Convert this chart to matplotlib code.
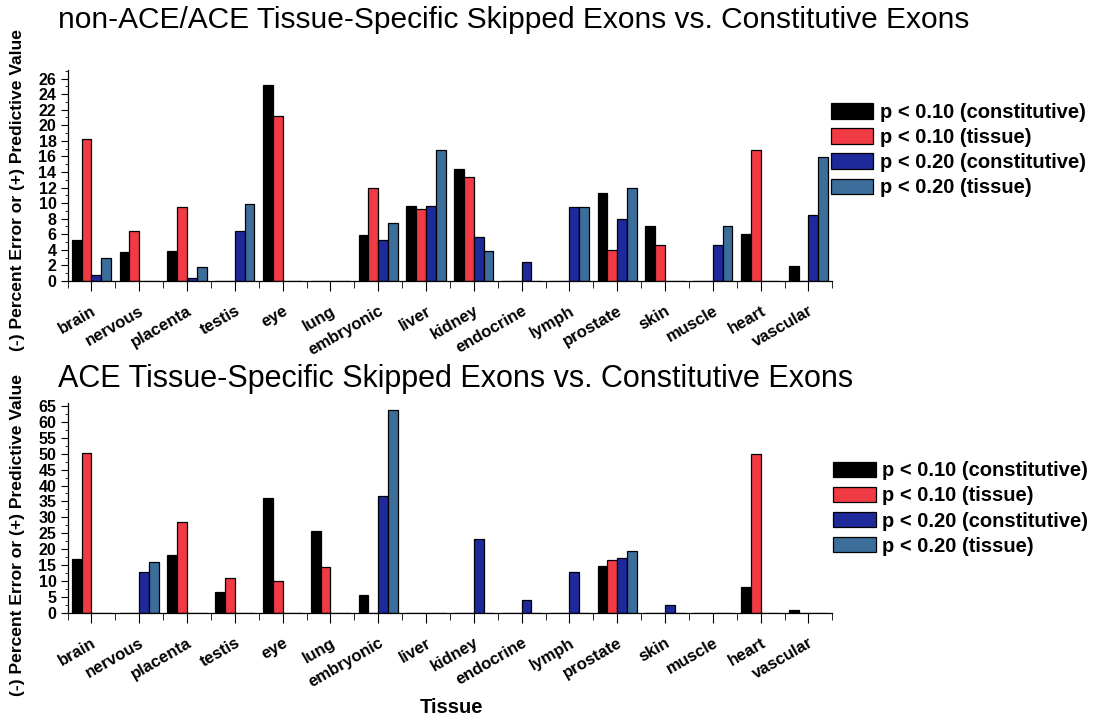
import matplotlib
matplotlib.use("Agg")
import matplotlib.pyplot as plt
import numpy as np
from matplotlib.patches import Patch
from matplotlib.ticker import MultipleLocator

plt.rcParams['font.family'] = ['Liberation Sans', 'DejaVu Sans']

tissues = ["brain", "nervous", "placenta", "testis", "eye", "lung", "embryonic", "liver",
           "kidney", "endocrine", "lymph", "prostate", "skin", "muscle", "heart", "vascular"]
series_names = ["p < 0.10 (constitutive)", "p < 0.10 (tissue)",
                "p < 0.20 (constitutive)", "p < 0.20 (tissue)"]
colors = ["#000000", "#f03a44", "#1e2a9c", "#3c6e9c"]

# top panel: non-ACE/ACE
top_p10_const = [5.2, 3.7, 3.85, 0.05, 25.2, 0, 5.95, 9.65, 14.4, 0, 0, 11.35, 7.05, 0, 6.05, 1.95]
top_p10_tissue = [18.3, 6.4, 9.55, 0, 21.2, 0, 12.0, 9.3, 13.3, 0, 0, 4.0, 4.65, 0, 16.8, 0]
top_p20_const = [0.8, 0, 0.35, 6.4, 0, 0, 5.2, 9.6, 5.6, 2.4, 9.45, 7.95, 0, 4.6, 0, 8.5]
top_p20_tissue = [2.9, 0, 1.8, 9.95, 0, 0, 7.5, 16.8, 3.9, 0, 9.45, 11.9, 0, 7.0, 0, 15.9]

# bottom panel: ACE
bot_p10_const = [17.1, 0, 18.2, 6.7, 36.1, 25.7, 5.7, 0, 0, 0, 0, 14.7, 0, 0, 8.1, 0.8]
bot_p10_tissue = [50.1, 0, 28.7, 11.1, 10.1, 14.4, 0, 0, 0, 0, 0, 16.7, 0, 0, 50.0, 0]
bot_p20_const = [0, 13.0, 0, 0, 0, 0, 36.7, 0, 23.3, 4.0, 12.9, 17.3, 2.6, 0, 0, 0]
bot_p20_tissue = [0, 16.0, 0, 0, 0, 0, 63.6, 0, 0, 0, 0, 19.3, 0, 0, 0, 0]

fig = plt.figure(figsize=(10.98, 7.21), dpi=100)
ax1 = fig.add_axes([0.0615, 0.6103, 0.6966, 0.2926])
ax2 = fig.add_axes([0.0615, 0.1498, 0.6966, 0.2917])

x = np.arange(len(tissues)) + 0.5
w = 0.205


def draw_panel(ax, data, ymax, ystep, yminor):
    for k, vals in enumerate(data):
        ax.bar(x + (k - 1.5) * w, vals, w, color=colors[k], edgecolor="black", linewidth=0.9)
    ax.set_xlim(0, len(tissues))
    ax.set_ylim(0, ymax)
    ax.yaxis.set_major_locator(MultipleLocator(ystep))
    ax.yaxis.set_minor_locator(MultipleLocator(yminor))
    ax.set_xticks(x)
    ax.set_xticks(np.arange(len(tissues) + 1), minor=True)
    ax.set_xticklabels(tissues, rotation=30, ha="right", rotation_mode="anchor",
                       fontsize=12, fontweight="bold")
    ax.tick_params(axis="x", which="major", length=7, pad=9)
    ax.tick_params(axis="x", which="minor", length=5)
    ax.tick_params(axis="y", which="major", length=5, pad=3, labelsize=11.5)
    ax.tick_params(axis="y", which="minor", length=2.5)
    for lab in ax.get_yticklabels():
        lab.set_fontweight("bold")
    for s in ("top", "right"):
        ax.spines[s].set_visible(False)
    ax.spines["left"].set_linewidth(0.9)
    ax.spines["bottom"].set_linewidth(0.9)


draw_panel(ax1, [top_p10_const, top_p10_tissue, top_p20_const, top_p20_tissue], 27.1, 2, 1)
draw_panel(ax2, [bot_p10_const, bot_p10_tissue, bot_p20_const, bot_p20_tissue], 66, 5, 2.5)

fig.text(0.053, 0.961, "non-ACE/ACE Tissue-Specific Skipped Exons vs. Constitutive Exons",
         fontsize=21.5, va="baseline", ha="left")
fig.text(0.053, 0.463, "ACE Tissue-Specific Skipped Exons vs. Constitutive Exons",
         fontsize=22, va="baseline", ha="left")

ylab = "(-) Percent Error or (+) Predictive Value"
fig.text(0.016, 0.7365, ylab, rotation=90, fontsize=12.6, fontweight="bold", ha="center", va="center")
fig.text(0.016, 0.258, ylab, rotation=90, fontsize=12.6, fontweight="bold", ha="center", va="center")

fig.text(0.411, 0.019, "Tissue", fontsize=14.5, fontweight="bold", ha="center", va="center")

handles = [Patch(facecolor=c, edgecolor="black", linewidth=0.9) for c in colors]
leg_kw = dict(frameon=False, loc="upper left", handlelength=2.1, handleheight=0.8,
              handletextpad=0.3, labelspacing=0.3, borderaxespad=0, borderpad=0,
              prop={"weight": "bold", "size": 14.5})
fig.legend(handles, series_names, bbox_to_anchor=(0.757, 0.857), **leg_kw)
fig.legend(handles, series_names, bbox_to_anchor=(0.759, 0.36), **leg_kw)

fig.savefig("out.png", dpi=100)
